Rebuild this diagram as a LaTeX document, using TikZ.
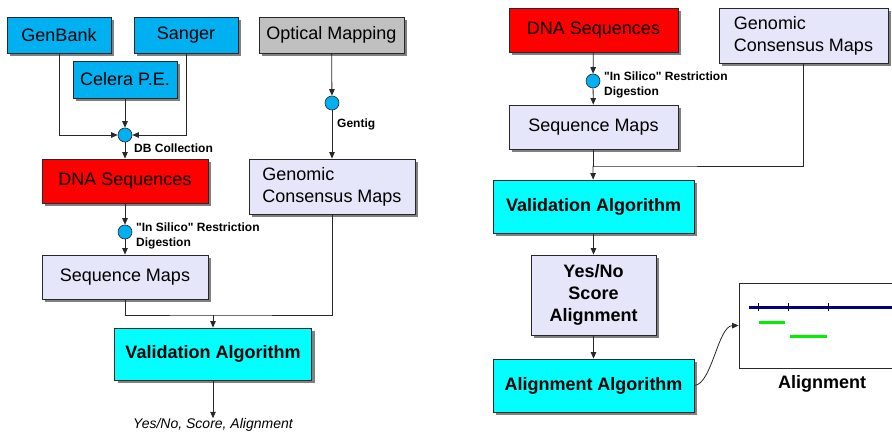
\documentclass[tikz,border=0pt]{standalone}
\usepackage{fontspec}
\setmainfont{Liberation Sans}
\usepackage{tikz}
\usetikzlibrary{arrows.meta,shadows}

\definecolor{srcblue}{RGB}{0,176,240}
\definecolor{seqred}{RGB}{255,0,0}
\definecolor{maplav}{RGB}{230,230,250}
\definecolor{algcyan}{RGB}{0,255,255}
\definecolor{optgray}{RGB}{192,192,192}
\definecolor{boxline}{RGB}{40,40,40}
\definecolor{shadegray}{RGB}{128,128,128}
\definecolor{trackgreen}{RGB}{0,240,0}
\definecolor{refnavy}{RGB}{0,0,128}

\newcommand{\bigtxt}{\fontsize{18}{22}\selectfont}
\newcommand{\smalltxt}{\fontsize{12}{15}\selectfont\bfseries}

\tikzset{
  box/.style={draw=boxline, line width=0.8pt, inner sep=0pt, font=\bigtxt,
    drop shadow={shadow xshift=3pt, shadow yshift=-3pt, fill=shadegray, opacity=1}},
  srcbox/.style={box, fill=srcblue},
  seqbox/.style={box, fill=seqred},
  mapbox/.style={box, fill=maplav},
  algbox/.style={box, fill=algcyan, font=\bigtxt\bfseries},
  dot/.style={circle, draw=boxline, line width=0.6pt, fill=srcblue, minimum size=14pt, inner sep=0pt},
  lbl/.style={font=\smalltxt, inner sep=0pt, anchor=west, align=left},
  flow/.style={draw=boxline, line width=0.8pt, -{Triangle[length=6.5pt,width=5.5pt]}},
  link/.style={draw=boxline, line width=0.8pt}
}

\begin{document}
\begin{tikzpicture}[x=1pt,y=-1pt]
    \useasboundingbox (0,0) rectangle (892,433);

    % left: sources
    \node[srcbox, minimum width=104pt, minimum height=36pt] (genbank) at (59,35) {GenBank};
    \node[srcbox, minimum width=104pt, minimum height=36pt] (sanger) at (186,35) {Sanger};
    \node[srcbox, minimum width=104pt, minimum height=37pt] (celera) at (125,79.5) {Celera P.E.};
    \node[box, fill=optgray, minimum width=145pt, minimum height=36pt] (optmap) at (331.5,35) {Optical Mapping};

    % left: junctions
    \node[dot] (dbjoin) at (125,135) {};
    \node[dot] (gentigjoin) at (332,103) {};
    \node[lbl] (dblbl) at (134,148) {DB Collection};
    \node[lbl] (gentiglbl) at (337,124) {Gentig};

    % left: sequences and maps
    \node[seqbox, minimum width=166pt, minimum height=44pt] (dnaL) at (125,181) {DNA Sequences};
    \node[mapbox, align=left, minimum width=166pt, minimum height=55pt] (gcmL) at (332,186.5) {Genomic\\Consensus Maps};
    \node[dot] (digL) at (125,232) {};
    \node[lbl] (diglblL) at (136,235.5) {\textquotedbl In Silico\textquotedbl{} Restriction\\Digestion};
    \node[mapbox, minimum width=166pt, minimum height=44pt] (seqL) at (125,277) {Sequence Maps};
    \coordinate (mergeL) at (213,315);
    \node[algbox, minimum width=197pt, minimum height=52pt] (valL) at (213,354) {Validation Algorithm};
    \node[font=\fontsize{14}{16}\selectfont\itshape, inner sep=0pt] (outL) at (213,425) {Yes/No, Score, Alignment};

    % left: connectors
    \draw[flow] (genbank.south) |- (dbjoin.west);
    \draw[flow] (sanger.south) |- (dbjoin.east);
    \draw[flow] (celera) -- (dbjoin);
    \draw[flow] (dbjoin) -- (dnaL);
    \draw[flow] (optmap) -- (gentigjoin);
    \draw[flow] (gentigjoin) -- (gcmL);
    \draw[flow] (dnaL) -- (digL);
    \draw[flow] (digL) -- (seqL);
    \draw[link] (seqL.south) |- (mergeL) -| (gcmL.south);
    \draw[flow] (mergeL) -- (valL);
    \draw[flow] (valL) -- (outL);

    % right: boxes
    \node[seqbox, minimum width=169pt, minimum height=44pt] (dnaR) at (593.5,30) {DNA Sequences};
    \node[mapbox, align=left, minimum width=169pt, minimum height=55pt] (gcmR) at (803.5,35.5) {Genomic\\Consensus Maps};
    \node[dot] (digR) at (593,81) {};
    \node[lbl] (diglblR) at (604,84.5) {\textquotedbl In Silico\textquotedbl{} Restriction\\Digestion};
    \node[mapbox, minimum width=169pt, minimum height=44pt] (seqR) at (593.5,127) {Sequence Maps};
    \coordinate (mergeR) at (593,166);
    \node[algbox, minimum width=201pt, minimum height=53pt] (valR) at (593.5,206.5) {Validation Algorithm};
    \node[mapbox, font=\bigtxt\bfseries, align=center, minimum width=125pt, minimum height=80pt] (ysa) at (593.5,295) {Yes/No\\Score\\Alignment};
    \node[algbox, minimum width=201pt, minimum height=53pt] (alnalg) at (593.5,385.5) {Alignment Algorithm};

    % right: alignment picture
    \node[draw=boxline, line width=0.8pt, fill=white, minimum width=206pt, minimum height=85pt] (alnpanel) at (842,325.5) {};
    \draw[refnavy, line width=3pt] (749,307) -- (900,307);
    \foreach \tx in {758,788,828}
        \draw[black, line width=0.6pt] (\tx,303) -- (\tx,311);
    \draw[trackgreen, line width=3pt] (759,322) -- (785,322);
    \draw[trackgreen, line width=3pt] (790,336) -- (827,336);
    \node[font=\bigtxt\bfseries, inner sep=0pt] (alnlbl) at (822,384) {Alignment};

    % right: connectors
    \draw[flow] (dnaR) -- (digR);
    \draw[flow] (digR) -- (seqR);
    \draw[link] (seqR.south) |- (mergeR) -| (gcmR.south);
    \draw[flow] (mergeR) -- (valR);
    \draw[flow] (valR) -- (ysa);
    \draw[flow] (ysa) -- (alnalg);
    \draw[flow] (alnalg.east) .. controls (712,384) and (718,326) .. (alnpanel.west);
\end{tikzpicture}
\end{document}
